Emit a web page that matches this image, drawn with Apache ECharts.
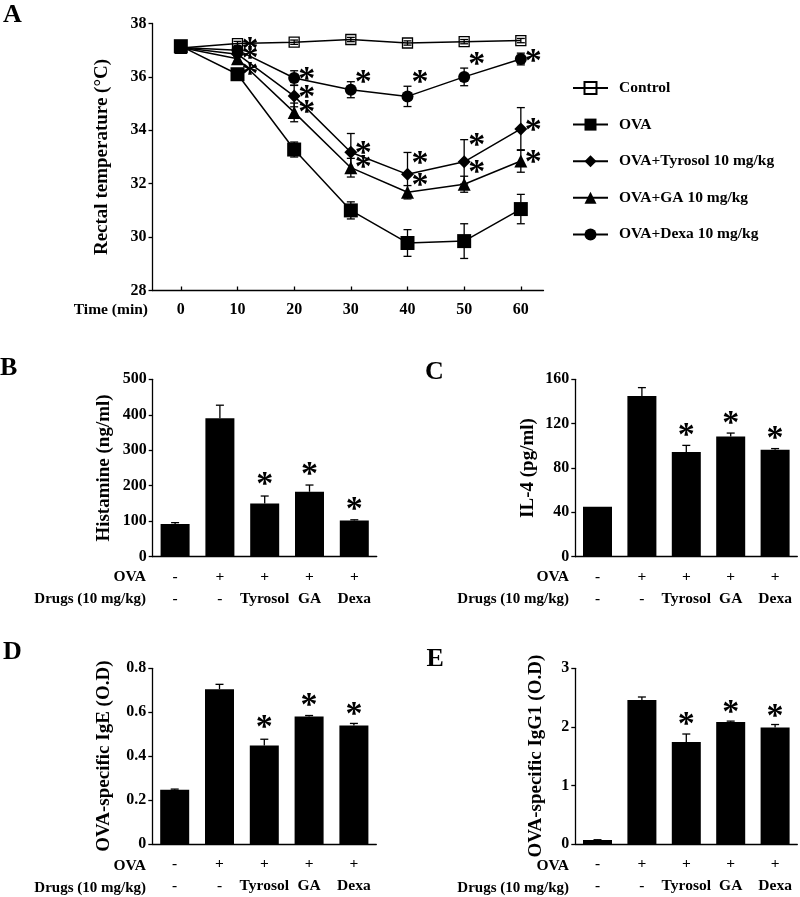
<!DOCTYPE html>
<html><head><meta charset="utf-8">
<script src="https://cdn.jsdelivr.net/npm/echarts@6/dist/echarts.min.js"></script>
<style>html,body{margin:0;padding:0;background:#fff}#c{width:800px;height:897px}</style>
</head><body><div id="c"></div>
<script>
const FONT = "'Liberation Serif','Times New Roman',serif";

// ---------- Panel A data ----------
const timePoints = [0, 10, 20, 30, 40, 50, 60];
const timeTicks = [0, 10, 20, 30, 40, 50, 60];
const seriesNames = ['Control', 'OVA', 'OVA+Tyrosol 10 mg/kg', 'OVA+GA 10 mg/kg', 'OVA+Dexa 10 mg/kg'];
const controlTemp = [37.08, 37.25, 37.3, 37.4, 37.27, 37.32, 37.36];
const controlErr  = [0.08, 0.08, 0.08, 0.08, 0.08, 0.08, 0.08];
const ovaTemp     = [37.15, 36.1, 33.28, 31.0, 29.78, 29.85, 31.05];
const ovaErr      = [0.1, 0.1, 0.28, 0.32, 0.5, 0.65, 0.55];
const tyrosolTemp = [37.1, 36.85, 35.28, 33.18, 32.35, 32.82, 34.05];
const tyrosolErr  = [0.05, 0.1, 0.4, 0.7, 0.82, 0.83, 0.8];
const gaTemp      = [37.1, 36.68, 34.67, 32.6, 31.68, 31.98, 32.85];
const gaErr       = [0.05, 0.1, 0.35, 0.35, 0.25, 0.3, 0.42];
const dexaTemp    = [37.1, 37.0, 35.96, 35.52, 35.27, 36.0, 36.67];
const dexaErr     = [0.05, 0.1, 0.27, 0.3, 0.38, 0.33, 0.22];
const starsA = [
  [12.2, 37.18], [12.2, 36.87], [12.2, 36.24],
  [22.2, 36.08], [22.2, 35.38], [22.2, 34.82],
  [32.2, 35.96], [32.2, 33.28], [32.2, 32.78],
  [42.2, 35.96], [42.2, 32.93], [42.2, 32.09],
  [52.2, 36.62], [52.2, 33.6], [52.2, 32.59],
  [62.2, 36.74], [62.2, 34.16], [62.2, 32.97]
];

// ---------- Bar panels data ----------
const ovaRow  = ['-', '+', '+', '+', '+'];
const drugRow = ['-', '-', 'Tyrosol', 'GA', 'Dexa'];
const histamine      = [92, 390, 150, 183, 102];
const histamineErr   = [4, 37, 21, 19, 2];
const histamineStars = [null, null, 216, 244, 146];
const il4      = [45, 145, 94.4, 108.5, 96.5];
const il4Err   = [0, 7.5, 6, 3, 1];
const il4Stars = [null, null, 113, 124.4, 110.6];
const ige      = [0.247, 0.705, 0.448, 0.58, 0.54];
const igeErr   = [0.003, 0.022, 0.029, 0.005, 0.009];
const igeStars = [null, null, 0.551, 0.649, 0.611];
const igg1      = [0.068, 2.46, 1.743, 2.083, 1.99];
const igg1Err   = [0.005, 0.05, 0.135, 0.015, 0.05];
const igg1Stars = [null, null, 2.12, 2.32, 2.26];

const categories = ovaRow.map((o, i) => o + '\n' + drugRow[i]);

const chart = echarts.init(document.getElementById('c'), null, {renderer: 'canvas'});

const axisLineStyle = {color: '#000', width: 1.3};
const labelStyle = {color: '#000', fontFamily: FONT, fontWeight: 'bold', fontSize: 16};
const catLabelStyle = {color: '#000', fontFamily: FONT, fontWeight: 'bold', fontSize: 15.5};
const nameStyle = {color: '#000', fontFamily: FONT, fontWeight: 'bold', fontSize: 19};
const STAR = 34;

function errRender(capHalf, both) {
  return function (params, api) {
    const x = api.value(0), v = api.value(1), e = api.value(2);
    if (!(e > 0)) return null;
    const top = api.coord([x, v + e]);
    const bot = api.coord([x, both ? v - e : v]);
    const st = {stroke: '#000', lineWidth: 1.3};
    const ch = [
      {type: 'line', shape: {x1: top[0], y1: top[1], x2: bot[0], y2: bot[1]}, style: st},
      {type: 'line', shape: {x1: top[0] - capHalf, y1: top[1], x2: top[0] + capHalf, y2: top[1]}, style: st}
    ];
    if (both) ch.push({type: 'line', shape: {x1: bot[0] - capHalf, y1: bot[1], x2: bot[0] + capHalf, y2: bot[1]}, style: st});
    return {type: 'group', children: ch};
  };
}
function starRender(params, api) {
  const p = api.coord([api.value(0), api.value(1)]);
  return {type: 'text', x: p[0], y: p[1] + STAR * 0.15, style: {text: '*', font: 'bold ' + STAR + 'px ' + FONT, fill: '#000', textAlign: 'center', textVerticalAlign: 'middle'}};
}

const grids = [
  {left: 152.5, top: 23.5, width: 391, height: 267},
  {left: 152.7, top: 379.3, width: 224, height: 177.4},
  {left: 575.3, top: 379.3, width: 222, height: 177.4},
  {left: 152.3, top: 668.3, width: 224, height: 176.7},
  {left: 575.3, top: 668.3, width: 222, height: 176.7}
];

const xAxes = [{
  gridIndex: 0, type: 'value', min: -5, max: 64,
  axisLine: {onZero: false, lineStyle: axisLineStyle},
  axisTick: {inside: true, length: 4, lineStyle: axisLineStyle, customValues: timeTicks},
  axisLabel: Object.assign({margin: 11, customValues: timeTicks}, labelStyle),
  splitLine: {show: false}
}];
for (let g = 1; g <= 4; g++) {
  xAxes.push({
    gridIndex: g, type: 'category', data: categories, boundaryGap: true,
    axisLine: {onZero: false, lineStyle: axisLineStyle},
    axisTick: {inside: true, length: 4, lineStyle: axisLineStyle},
    axisLabel: Object.assign({margin: 9, lineHeight: 22, interval: 0}, catLabelStyle),
    splitLine: {show: false}
  });
}
function yAx(g, min, max, interval, name, gap, fmt) {
  return {
    gridIndex: g, type: 'value', min, max, interval, name, nameLocation: 'middle', nameGap: gap,
    nameTextStyle: nameStyle,
    axisLine: {show: true, onZero: false, lineStyle: axisLineStyle},
    axisTick: {show: true, length: 4, lineStyle: axisLineStyle},
    axisLabel: Object.assign({margin: 6, formatter: fmt}, labelStyle),
    splitLine: {show: false}
  };
}
const yAxes = [
  yAx(0, 28, 38, 2, 'Rectal temperature (°C)', 41),
  yAx(1, 0, 500, 100, 'Histamine (ng/ml)', 39),
  yAx(2, 0, 160, 40, 'IL-4 (pg/ml)', 38),
  yAx(3, 0, 0.8, 0.2, 'OVA-specific IgE (O.D)', 39, v => v === 0 ? '0' : v.toFixed(1)),
  yAx(4, 0, 3, 1, 'OVA-specific IgG1 (O.D)', 30)
];

const lineDefs = [
  {name: seriesNames[0], vals: controlTemp, err: controlErr, symbol: 'rect', size: 10, hollow: true},
  {name: seriesNames[1], vals: ovaTemp, err: ovaErr, symbol: 'rect', size: 14},
  {name: seriesNames[2], vals: tyrosolTemp, err: tyrosolErr, symbol: 'diamond', size: 13},
  {name: seriesNames[3], vals: gaTemp, err: gaErr, symbol: 'triangle', size: 13},
  {name: seriesNames[4], vals: dexaTemp, err: dexaErr, symbol: 'circle', size: 12}
];

const series = [];
lineDefs.forEach(d => {
  series.push({
    type: 'custom', xAxisIndex: 0, yAxisIndex: 0, z: 2, silent: true,
    renderItem: errRender(4, true),
    data: timePoints.map((t, i) => [t, d.vals[i], d.err[i]])
  });
});
lineDefs.forEach(d => {
  series.push({
    type: 'line', name: d.name, xAxisIndex: 0, yAxisIndex: 0, z: 3,
    data: timePoints.map((t, i) => [t, d.vals[i]]),
    symbol: d.symbol, symbolSize: d.size, showAllSymbol: true,
    color: '#000',
    lineStyle: {color: '#000', width: 1.5},
    itemStyle: d.hollow ? {color: 'rgba(0,0,0,0)', borderColor: '#000', borderWidth: 1.3} : {color: '#000'}
  });
});
series.push({type: 'custom', xAxisIndex: 0, yAxisIndex: 0, z: 4, renderItem: starRender, data: starsA});

const barSets = [
  [histamine, histamineErr, histamineStars],
  [il4, il4Err, il4Stars],
  [ige, igeErr, igeStars],
  [igg1, igg1Err, igg1Stars]
];
barSets.forEach((s, k) => {
  const g = k + 1;
  series.push({type: 'bar', xAxisIndex: g, yAxisIndex: g, data: s[0], barWidth: 29, itemStyle: {color: '#000'}, z: 2});
  series.push({type: 'custom', xAxisIndex: g, yAxisIndex: g, z: 3, renderItem: errRender(4, false),
    data: s[0].map((v, i) => [i, v, s[1][i]])});
  series.push({type: 'custom', xAxisIndex: g, yAxisIndex: g, z: 4, renderItem: starRender,
    data: s[2].map((v, i) => v == null ? null : [i, v]).filter(Boolean)});
});

function txt(text, x, y, size, align, vAlign) {
  return {type: 'text', x, y, style: {text, font: 'bold ' + size + 'px ' + FONT, fill: '#000', textAlign: align || 'left', textVerticalAlign: vAlign || 'middle'}};
}
const graphic = [
  txt('A', 3, 2, 26, 'left', 'top'),
  txt('B', 0, 355, 26, 'left', 'top'),
  txt('C', 425, 359.5, 26, 'left', 'top'),
  txt('D', 3, 639.5, 26, 'left', 'top'),
  txt('E', 426.5, 646, 26, 'left', 'top'),
  txt('Time (min)', 148, 310, 15.5, 'right'),
  txt('OVA', 146, 577, 15.5, 'right'),
  txt('Drugs (10 mg/kg)', 146, 599, 15, 'right'),
  txt('OVA', 569, 577, 15.5, 'right'),
  txt('Drugs (10 mg/kg)', 569, 599, 15, 'right'),
  txt('OVA', 146, 866, 15.5, 'right'),
  txt('Drugs (10 mg/kg)', 146, 888, 15, 'right'),
  txt('OVA', 569, 866, 15.5, 'right'),
  txt('Drugs (10 mg/kg)', 569, 888, 15, 'right')
];

chart.setOption({
  animation: false,
  backgroundColor: '#fff',
  grid: grids,
  xAxis: xAxes,
  yAxis: yAxes,
  legend: {
    data: seriesNames, orient: 'vertical', left: 567, top: 75,
    itemWidth: 35, itemHeight: 15, itemGap: 20.6,
    textStyle: {color: '#000', fontFamily: FONT, fontWeight: 'bold', fontSize: 15.5, lineHeight: 15, padding: [0, 0, 0, 6]}
  },
  graphic: graphic,
  series: series
});
</script></body></html>
